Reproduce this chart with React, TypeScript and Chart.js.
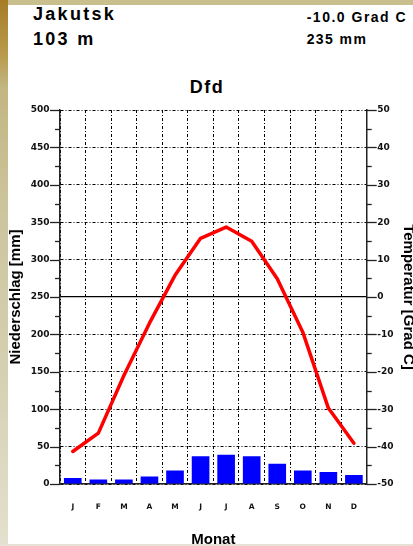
import React, { useEffect, useRef } from 'react';
import { Chart, registerables } from 'chart.js';

Chart.register(...registerables);

// ---- data ----
const months = ['J', 'F', 'M', 'A', 'M', 'J', 'J', 'A', 'S', 'O', 'N', 'D'];
const precipitation = [8, 6, 6, 10, 18, 37, 39, 37, 27, 18, 16, 12]; // mm
const temperature = [-41.3, -36.4, -21, -7, 5.8, 15.7, 18.7, 14.9, 4.9, -9.4, -29.7, -39.1]; // °C
const precipRange = [0, 500];
const precipStep = 50;
const precipMinorStep = 25;
const tempRange = [-50, 50];
const tempStep = 10;
const tempMinorStep = 5;

const station = 'Jakutsk';
const altitude = '103 m';
const meanTemp = '-10.0 Grad C';
const totalPrecip = '235 mm';
const climateClass = 'Dfd';

const GRID_DASH = [3, 2, 1, 2];

const tickMarks = {
  id: 'tickMarks',
  afterDraw(chart: any) {
    const { ctx, chartArea } = chart;
    const y = chart.scales.y;
    const y2 = chart.scales.y2;
    ctx.save();
    ctx.strokeStyle = '#222';
    ctx.lineWidth = 1.3;
    for (let v = precipRange[0]; v <= precipRange[1]; v += precipMinorStep) {
      const p = Math.round(y.getPixelForValue(v)) + 0.5;
      const len = v % precipStep === 0 ? 10 : 5;
      ctx.beginPath();
      ctx.moveTo(chartArea.left - len, p);
      ctx.lineTo(chartArea.left, p);
      ctx.stroke();
    }
    for (let v = tempRange[0]; v <= tempRange[1]; v += tempMinorStep) {
      const p = Math.round(y2.getPixelForValue(v)) + 0.5;
      const len = v % tempStep === 0 ? 10 : 5;
      ctx.beginPath();
      ctx.moveTo(chartArea.right, p);
      ctx.lineTo(chartArea.right + len, p);
      ctx.stroke();
    }
    ctx.restore();
  },
};

const tickFont = { family: 'DejaVu Sans', size: 9, weight: 'bold' as const };

export default function App() {
  const canvasRef = useRef<HTMLCanvasElement | null>(null);

  useEffect(() => {
    const canvas = canvasRef.current;
    if (!canvas) return;
    const chart = new Chart(canvas, {
      type: 'bar',
      data: {
        labels: months,
        datasets: [
          {
            type: 'line',
            label: 'Temperatur',
            data: temperature,
            yAxisID: 'y2',
            borderColor: '#ff0000',
            backgroundColor: '#ff0000',
            borderWidth: 3.5,
            pointRadius: 0,
            tension: 0,
            borderCapStyle: 'round',
            borderJoinStyle: 'round',
            order: 0,
          } as any,
          {
            type: 'bar',
            label: 'Niederschlag',
            data: precipitation,
            yAxisID: 'y',
            backgroundColor: '#0000ff',
            borderWidth: 0,
            barPercentage: 0.69,
            categoryPercentage: 1,
            order: 1,
          },
        ],
      },
      options: {
        responsive: false,
        animation: false,
        events: [],
        layout: { autoPadding: false, padding: { top: 110, left: 0, right: 0, bottom: 0 } },
        plugins: {
          legend: { display: false },
          tooltip: { enabled: false },
          title: { display: false },
        },
        scales: {
          x: {
            type: 'category',
            offset: true,
            afterFit: (s: any) => {
              s.height = 62;
            },
            grid: {
              offset: true,
              color: '#000',
              lineWidth: 1,
              drawTicks: false,
            },
            border: { display: true, color: '#222', width: 1.5, dash: GRID_DASH },
            ticks: {
              font: { family: 'DejaVu Sans', size: 7.5, weight: 'bold' },
              color: '#111',
              padding: 18.5,
              maxRotation: 0,
              autoSkip: false,
            },
            title: {
              display: true,
              text: 'Monat',
              color: '#000',
              font: { family: 'Liberation Sans', size: 15, weight: 'bold' },
              padding: { top: 0, bottom: -3 },
            },
          },
          y: {
            type: 'linear',
            position: 'left',
            min: precipRange[0],
            max: precipRange[1],
            afterFit: (s: any) => {
              s.width = 60;
            },
            grid: {
              color: '#000',
              lineWidth: (c: any) => (c.tick && c.tick.value === 250 ? 1.3 : 1),
              drawTicks: false,
            },
            border: {
              display: true,
              color: '#222',
              width: 1.5,
              dash: (c: any) => (c.tick && c.tick.value === 250 ? [] : GRID_DASH),
            },
            ticks: {
              stepSize: precipStep,
              font: tickFont,
              color: '#111',
              padding: 10.5,
            },
            title: {
              display: true,
              text: 'Niederschlag [mm]',
              color: '#000',
              font: { family: 'Liberation Sans', size: 15, weight: 'bold' },
              padding: { top: 6.5, bottom: 0 },
            },
          },
          y2: {
            type: 'linear',
            position: 'right',
            min: tempRange[0],
            max: tempRange[1],
            afterFit: (s: any) => {
              s.width = 46.3;
            },
            grid: { drawOnChartArea: false, drawTicks: false },
            border: { display: true, color: '#222', width: 1.5 },
            ticks: {
              stepSize: tempStep,
              font: tickFont,
              color: '#111',
              padding: 10.5,
            },
            title: {
              display: true,
              text: 'Temperatur [Grad C]',
              color: '#000',
              font: { family: 'Liberation Sans', size: 15, weight: 'bold' },
              padding: { top: -4.5, bottom: 0 },
            },
          },
        },
      },
      plugins: [tickMarks],
    });
    return () => chart.destroy();
  }, []);

  const headFont = "'Liberation Sans', Arial, sans-serif";

  return (
    <div
      style={{
        position: 'absolute',
        left: 0,
        top: 0,
        width: 413,
        height: 546,
        overflow: 'hidden',
        background: '#c9bf8e',
      }}
    >
      <div
        style={{
          position: 'absolute',
          left: 0,
          top: 0,
          width: 8,
          height: 546,
          background:
            'linear-gradient(to bottom, #a67c26 0%, #b99a4c 10%, #c2b682 16%, #cdc59e 40%, #d8d3b8 75%, #e4e0cf 100%)',
        }}
      />
      <div
        style={{
          position: 'absolute',
          left: 8,
          top: 5,
          width: 405,
          height: 539,
          background: '#ffffff',
        }}
      />
      <div
        style={{
          position: 'absolute',
          left: 0,
          top: 544,
          width: 413,
          height: 2,
          background: '#e6e3d6',
        }}
      />
      <div
        style={{
          position: 'absolute',
          left: 33,
          top: 4.8,
          font: `bold 18px ${headFont}`,
          lineHeight: 1,
          letterSpacing: '2.3px',
          color: '#000',
          whiteSpace: 'nowrap',
        }}
      >
        {station}
      </div>
      <div
        style={{
          position: 'absolute',
          left: 33,
          top: 29.8,
          font: `bold 18px ${headFont}`,
          lineHeight: 1,
          letterSpacing: '2.3px',
          color: '#000',
          whiteSpace: 'nowrap',
        }}
      >
        {altitude}
      </div>
      <div
        style={{
          position: 'absolute',
          left: 306.7,
          top: 9.9,
          font: `bold 14px ${headFont}`,
          lineHeight: 1,
          letterSpacing: '1.5px',
          color: '#000',
          whiteSpace: 'nowrap',
        }}
      >
        {meanTemp}
      </div>
      <div
        style={{
          position: 'absolute',
          left: 306.7,
          top: 31.5,
          font: `bold 14px ${headFont}`,
          lineHeight: 1,
          letterSpacing: '1.4px',
          color: '#000',
          whiteSpace: 'nowrap',
        }}
      >
        {totalPrecip}
      </div>
      <div
        style={{
          position: 'absolute',
          left: 0,
          top: 78,
          width: 414,
          textAlign: 'center',
          font: `bold 18px ${headFont}`,
          lineHeight: 1,
          letterSpacing: '1.5px',
          color: '#000',
          whiteSpace: 'nowrap',
        }}
      >
        {climateClass}
      </div>
      <canvas
        ref={canvasRef}
        width={413}
        height={546}
        style={{ position: 'absolute', left: 0, top: 0, width: 413, height: 546 }}
      />
    </div>
  );
}
